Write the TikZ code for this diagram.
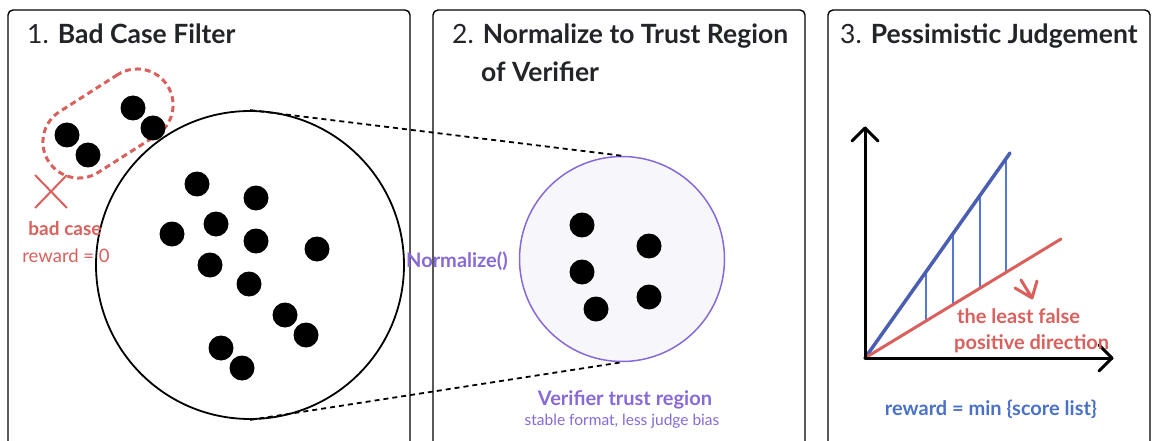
\documentclass[tikz,border=0pt]{standalone}
\usepackage{fontspec}
\setmainfont{Lato}
\definecolor{ink}{RGB}{34,36,40}
\definecolor{bad}{RGB}{217,96,92}
\definecolor{vio}{RGB}{135,105,215}
\definecolor{lav}{RGB}{247,246,251}
\definecolor{bl}{RGB}{74,94,178}
\definecolor{blt}{RGB}{74,112,200}
\definecolor{blthin}{RGB}{85,120,215}
\tikzset{
  panel/.style={draw=black, line width=1.4pt, rounded corners=5pt},
  dot/.style={fill=black},
  lnk/.style={draw=black, line width=1.8pt, dash pattern=on 5pt off 4pt},
  ttl/.style={anchor=base west, inner sep=0pt, text=ink, font=\fontsize{26.5}{30}\selectfont},
  axis/.style={draw=black, line width=3pt, line cap=round, line join=round},
  lbl/.style={inner sep=0pt, font=\fontsize{20}{22}\selectfont\bfseries},
}
\begin{document}
\begin{tikzpicture}[x=1pt,y=-1pt]
\useasboundingbox (0,0) rectangle (1154,441);
\clip (0,0) rectangle (1154,441);
% panels
\draw[panel] (8,10) rectangle (410,448);
\draw[panel] (433,10) rectangle (805,448);
\draw[panel] (828,10) rectangle (1150,448);
% titles
\node[ttl] (t1) at (27,44) {1. \textbf{Bad Case Filter}};
\node[ttl] (t2) at (452,44) {2. \textbf{Normalize to Trust Region}};
\node[ttl] (t2b) at (481,82) {\textbf{of Verifier}};
\node[ttl] (t3) at (840,44) {3. \textbf{Pessimistic Judgement}};
% panel 1
\node[circle, draw=black, line width=1.8pt, minimum size=308pt, inner sep=0pt] (big) at (250,265) {};
\node[draw=bad, line width=3pt, dash pattern=on 6pt off 4pt, rounded corners=36pt,
      minimum width=141pt, minimum height=72pt, inner sep=0pt, rotate=32.5] (badreg) at (108,123.5) {};
\foreach \p in {(67,135),(88,155),(133,108),(153,128)} \fill[dot] \p circle (12.5);
\foreach \p in {(197,184),(256,198),(216,224),(172,234),(256,241),(317,249),(210,265),(249,284),(285,315),(306,335),(221,348),(242,368)} \fill[dot] \p circle (12.5);
\coordinate (x1) at (35,175); \coordinate (x2) at (67,208);
\coordinate (x3) at (35,208); \coordinate (x4) at (67,175);
\draw[bad, line width=2pt] (x1) -- (x2) (x3) -- (x4);
\node[lbl, anchor=base, text=bad, font=\fontsize{19}{21}\selectfont\bfseries] (bc) at (65,235) {bad case};
\node[anchor=base, inner sep=0pt, text=bad, font=\fontsize{18.5}{20}\selectfont] (rw0) at (66,262) {reward = 0};
% panel 2
\node[circle, draw=vio, fill=lav, line width=1.5pt, minimum size=205pt, inner sep=0pt] (ver) at (622,259) {};
\draw[lnk] (big.north) -- (ver.north);
\draw[lnk] (big.south) -- (ver.south);
\foreach \p in {(582,225),(649,246),(582,272),(649,297),(596,309)} \fill[dot] \p circle (12.5);
\node[lbl, anchor=base, text=vio] (nrm) at (457,267) {Normalize()};
\node[lbl, anchor=base, text=vio] (vtr) at (625,405) {Verifier trust region};
\node[anchor=base, inner sep=0pt, text=vio, font=\fontsize{15.5}{17}\selectfont] (vsb) at (622,425) {stable format, less judge bias};
% panel 3
\coordinate (O) at (865,358);
\coordinate (Y) at (865,128);
\coordinate (X) at (1112,358);
\coordinate (Ya) at (852,141); \coordinate (Yb) at (878,141);
\coordinate (Xa) at (1099,345); \coordinate (Xb) at (1099,371);
\coordinate (B) at (1010,153);
\coordinate (R) at (1061,239);
\foreach \xx in {926,953,980,1006} {
  \pgfmathsetmacro{\yb}{358-(\xx-865)*1.414}
  \pgfmathsetmacro{\yr}{358-(\xx-865)*0.607}
  \draw[blthin, line width=1.3pt] (\xx,\yb) -- (\xx,\yr);
}
\draw[bl, line width=3.5pt, line cap=round] (O) -- (B);
\draw[bad, line width=3pt, line cap=round] (O) -- (R);
\draw[axis] (O) -- (Y);
\draw[axis] (Ya) -- (Y) -- (Yb);
\draw[axis] (O) -- (X);
\draw[axis] (Xa) -- (X) -- (Xb);
\coordinate (ar0) at (1021,280); \coordinate (ar1) at (1032,298);
\coordinate (ar2) at (1015,288); \coordinate (ar3) at (1037,281);
\draw[bad, line width=3pt, line cap=round, line join=round] (ar0) -- (ar1) (ar2) -- (ar1) -- (ar3);
\node[lbl, anchor=base west, text=bad] (lf1) at (957,323) {the least false};
\node[lbl, anchor=base west, text=bad] (lf2) at (954,349) {positive direction};
\node[lbl, anchor=base, text=blt] (rmin) at (991,415) {reward = min \{score list\}};
\end{tikzpicture}
\end{document}
